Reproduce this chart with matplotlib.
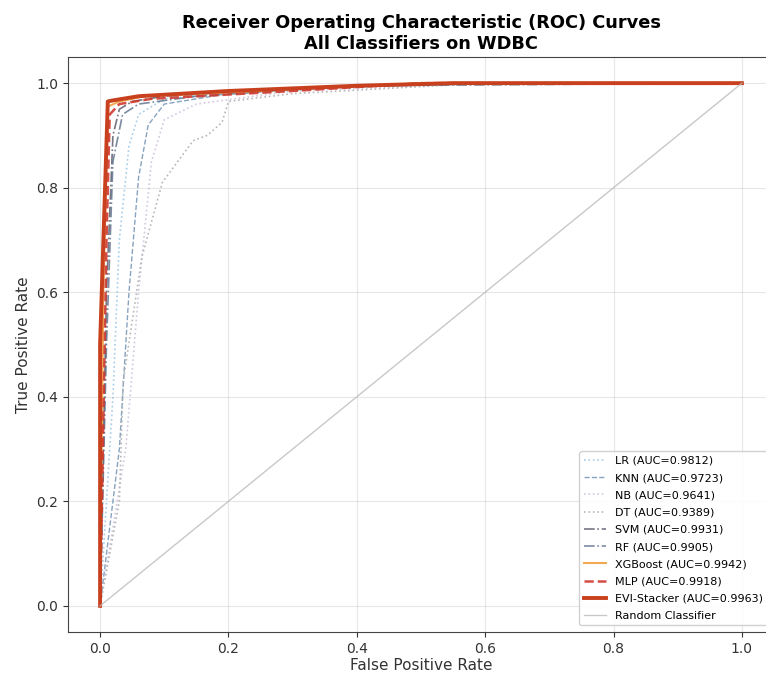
import matplotlib
matplotlib.use("Agg")
import matplotlib.pyplot as plt

# ROC points
lr_fpr = [0, 0.02, 0.03, 0.045, 0.06, 0.1, 0.3, 0.6, 1.0]
lr_tpr = [0, 0.40, 0.70, 0.88, 0.94, 0.97, 0.99, 1.0, 1.0]
knn_fpr = [0, 0.03, 0.045, 0.06, 0.075, 0.1, 0.2, 0.5, 1.0]
knn_tpr = [0, 0.30, 0.60, 0.82, 0.92, 0.96, 0.98, 1.0, 1.0]
nb_fpr = [0, 0.04, 0.06, 0.08, 0.1, 0.15, 0.3, 0.6, 1.0]
nb_tpr = [0, 0.30, 0.60, 0.85, 0.93, 0.96, 0.985, 1.0, 1.0]
dt_fpr = [0, 0.03, 0.036, 0.065, 0.097, 0.145, 0.167, 0.19, 0.2, 0.3, 0.6, 1.0]
dt_tpr = [0, 0.20, 0.43, 0.667, 0.81, 0.89, 0.90, 0.925, 0.965, 0.98, 1.0, 1.0]
svm_fpr = [0, 0.01, 0.02, 0.03, 0.05, 0.1, 0.3, 0.6, 1.0]
svm_tpr = [0, 0.60, 0.90, 0.95, 0.965, 0.975, 0.99, 1.0, 1.0]
rf_fpr = [0, 0.01, 0.02, 0.035, 0.06, 0.15, 0.4, 1.0]
rf_tpr = [0, 0.50, 0.85, 0.94, 0.96, 0.975, 0.995, 1.0]
xgb_fpr = [0, 0.005, 0.012, 0.03, 0.07, 0.25, 0.5, 1.0]
xgb_tpr = [0, 0.60, 0.955, 0.965, 0.975, 0.985, 1.0, 1.0]
mlp_fpr = [0, 0.01, 0.015, 0.03, 0.08, 0.3, 0.5, 1.0]
mlp_tpr = [0, 0.70, 0.94, 0.96, 0.97, 0.985, 1.0, 1.0]
evi_fpr = [0, 0.0, 0.012, 0.02, 0.06, 0.2, 0.4, 0.55, 1.0]
evi_tpr = [0, 0.50, 0.965, 0.967, 0.975, 0.985, 0.995, 1.0, 1.0]

names = ["LR", "KNN", "NB", "DT", "SVM", "RF", "XGBoost", "MLP", "EVI-Stacker"]
aucs = [0.9812, 0.9723, 0.9641, 0.9389, 0.9931, 0.9905, 0.9942, 0.9918, 0.9963]
fprs = [lr_fpr, knn_fpr, nb_fpr, dt_fpr, svm_fpr, rf_fpr, xgb_fpr, mlp_fpr, evi_fpr]
tprs = [lr_tpr, knn_tpr, nb_tpr, dt_tpr, svm_tpr, rf_tpr, xgb_tpr, mlp_tpr, evi_tpr]

styles = [
    dict(color="#8fc1e3", ls=":", lw=1.2, alpha=0.8),
    dict(color="#6a8caf", ls="--", lw=1.0, alpha=0.8),
    dict(color="#c9b8d8", ls=":", lw=1.2, alpha=0.8),
    dict(color="#b0b0b0", ls=":", lw=1.2, alpha=0.9),
    dict(color="#555566", ls="-.", lw=1.2, alpha=0.8),
    dict(color="#5a6f8a", ls="-.", lw=1.2, alpha=0.8),
    dict(color="#f0a040", ls="-", lw=1.5, alpha=0.9),
    dict(color="#d03a30", ls="--", lw=1.8, alpha=0.9),
    dict(color="#c8401e", ls="-", lw=2.8, alpha=1.0),
]

W, H = 766, 673
fig = plt.figure(figsize=(W / 100, H / 100), dpi=100)
ax = fig.add_axes([68 / W, (H - 632) / H, (774 - 68) / W, (632 - 57) / H])

for n, a, f, t, s in zip(names, aucs, fprs, tprs, styles):
    ax.plot(f, t, label=f"{n} (AUC={a:.4f})", **s)

ax.plot([0, 1], [0, 1], color="#bbbbbb", lw=1.0, alpha=0.8, label="Random Classifier")

ax.set_xlim(-0.05, 1.05)
ax.set_ylim(-0.05, 1.05)
ax.set_xticks([0, 0.2, 0.4, 0.6, 0.8, 1.0])
ax.set_yticks([0, 0.2, 0.4, 0.6, 0.8, 1.0])
ax.tick_params(labelsize=10, colors="#333333")
ax.grid(True, alpha=0.3)
ax.set_xlabel("False Positive Rate", fontsize=11, color="#333333", labelpad=2)
ax.set_ylabel("True Positive Rate", fontsize=11, color="#333333")
ax.set_title("Receiver Operating Characteristic (ROC) Curves\nAll Classifiers on WDBC",
             fontsize=12.8, fontweight="bold", pad=6)
for sp in ax.spines.values():
    sp.set_color("#444444")
ax.legend(loc="lower right", fontsize=8, framealpha=0.9, labelspacing=0.65,
          borderaxespad=0.6)

fig.savefig("out.png", dpi=100)
